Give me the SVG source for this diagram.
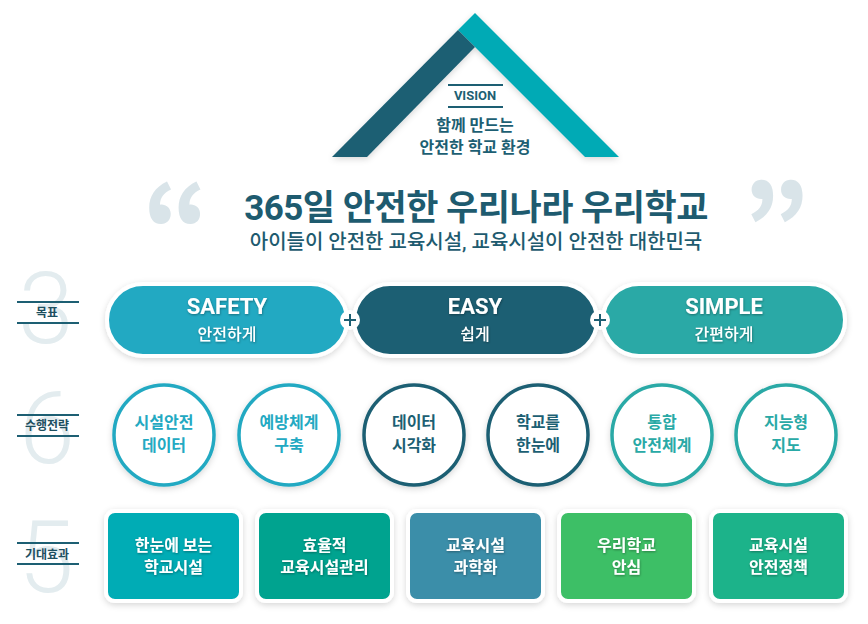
<svg xmlns="http://www.w3.org/2000/svg" width="868" height="624" viewBox="0 0 868 624">
<defs>
  <filter id="sh" x="-20%" y="-20%" width="140%" height="150%">
    <feDropShadow dx="0" dy="2" stdDeviation="3" flood-color="#000" flood-opacity="0.16"/>
  </filter>
  <filter id="tsh" x="-10%" y="-30%" width="120%" height="160%">
    <feDropShadow dx="0.5" dy="1" stdDeviation="0.8" flood-color="#000" flood-opacity="0.35"/>
  </filter>
  <style>
    text { font-family: Roboto, "Noto Sans CJK KR", sans-serif; text-anchor: middle; }
    .big { font-size: 100px; font-weight: 300; fill: #e3ecef; }
    .lbl { font-size: 12px; font-weight: 700; fill: #1d4f5f; }
    .lline { stroke: #1d5f73; stroke-width: 2; }
    .pill { stroke: #fff; stroke-width: 4; filter: url(#sh); }
    .pt1 { font-size: 22px; font-weight: 700; fill: #fff; }
    .pt2 { font-size: 16px; font-weight: 500; fill: #fff; }
    .circ { fill: #fff; stroke-width: 3.5; filter: url(#sh); }
    .ct { font-size: 16px; font-weight: 700; }
    .box { stroke: #fff; stroke-width: 4; filter: url(#sh); }
    .bt { font-size: 16px; font-weight: 700; fill: #fff; }
    .quote { font-family: "Noto Sans CJK KR", sans-serif; font-size: 105px; font-weight: 900; fill: #d9e4e9; }
  </style>
</defs>
<rect width="868" height="624" fill="#fff"/>

<!-- Roof / vision -->
<g id="vision">
  <g filter="url(#sh)">
    <polygon points="458,30 475,13 619,157 585,157 475,47" fill="#00aab5"/>
    <polygon points="332,157 458,30 475,47 367,157" fill="#1c5f73"/>
  </g>
  <line x1="448" y1="85" x2="503" y2="85" class="lline"/>
  <line x1="448" y1="107" x2="503" y2="107" class="lline"/>
  <text x="475" y="100" style="font-size:13px;font-weight:700;fill:#1d5f73">VISION</text>
  <text x="475" y="131" style="font-size:16px;font-weight:700;fill:#1d5f73">함께 만드는</text>
  <text x="475" y="153" style="font-size:16px;font-weight:700;fill:#1d5f73">안전한 학교 환경</text>
</g>

<!-- Title -->
<g id="title">
  <text class="quote" x="176" y="263">“</text>
  <text class="quote" x="776" y="263">”</text>
  <text x="476" y="220" style="font-size:35px;font-weight:700;fill:#1e5b6f;letter-spacing:-0.5px">365일 안전한 우리나라 우리학교</text>
  <text x="476" y="249" style="font-size:20px;font-weight:500;fill:#1e5b6f">아이들이 안전한 교육시설, 교육시설이 안전한 대한민국</text>
</g>

<!-- Row labels -->
<g id="label-goal">
  <text class="big" x="46" y="343">3</text>
  <line x1="17" y1="302" x2="79" y2="302" class="lline"/>
  <line x1="17" y1="323" x2="79" y2="323" class="lline"/>
  <text class="lbl" x="47" y="317">목표</text>
</g>
<g id="label-strategy">
  <text class="big" x="47" y="463">6</text>
  <line x1="17" y1="415" x2="79" y2="415" class="lline"/>
  <line x1="17" y1="436" x2="79" y2="436" class="lline"/>
  <text class="lbl" x="47" y="430">수행전략</text>
</g>
<g id="label-effect">
  <text class="big" x="46" y="592">5</text>
  <line x1="17" y1="543" x2="79" y2="543" class="lline"/>
  <line x1="17" y1="564" x2="79" y2="564" class="lline"/>
  <text class="lbl" x="47" y="559">기대효과</text>
</g>

<!-- Goals -->
<g id="goal-safety">
  <rect class="pill" x="107" y="284" width="240" height="72" rx="36" fill="#23a9c2"/>
  <text class="pt1" x="227" y="314" filter="url(#tsh)">SAFETY</text>
  <text class="pt2" x="227" y="340" filter="url(#tsh)">안전하게</text>
</g>
<g id="goal-easy">
  <rect class="pill" x="354" y="284" width="243" height="72" rx="36" fill="#1c5f73"/>
  <text class="pt1" x="475" y="314" filter="url(#tsh)">EASY</text>
  <text class="pt2" x="475" y="340" filter="url(#tsh)">쉽게</text>
</g>
<g id="goal-simple">
  <rect class="pill" x="603" y="284" width="242" height="72" rx="36" fill="#29a9a6"/>
  <text class="pt1" x="724" y="314" filter="url(#tsh)">SIMPLE</text>
  <text class="pt2" x="724" y="340" filter="url(#tsh)">간편하게</text>
</g>

<g id="connectors">
  <g>
    <circle cx="350" cy="320" r="10" fill="#fff"/>
    <path d="M344,320 H356 M350,314 V326" stroke="#1c5f73" stroke-width="2"/>
  </g>
  <g>
    <circle cx="600" cy="320" r="10" fill="#fff"/>
    <path d="M594,320 H606 M600,314 V326" stroke="#1c5f73" stroke-width="2"/>
  </g>
</g>

<!-- Strategies -->
<g id="s1">
  <circle class="circ" cx="164" cy="435" r="50" stroke="#23a9c2"/>
  <text class="ct" x="164" y="428" fill="#23a9c2">시설안전</text>
  <text class="ct" x="164" y="451" fill="#23a9c2">데이터</text>
</g>
<g id="s2">
  <circle class="circ" cx="289" cy="435" r="50" stroke="#23a9c2"/>
  <text class="ct" x="289" y="428" fill="#23a9c2">예방체계</text>
  <text class="ct" x="289" y="451" fill="#23a9c2">구축</text>
</g>
<g id="s3">
  <circle class="circ" cx="414" cy="435" r="50" stroke="#1c5f73"/>
  <text class="ct" x="414" y="428" fill="#1c5f73">데이터</text>
  <text class="ct" x="414" y="451" fill="#1c5f73">시각화</text>
</g>
<g id="s4">
  <circle class="circ" cx="538" cy="435" r="50" stroke="#1c5f73"/>
  <text class="ct" x="538" y="428" fill="#1c5f73">학교를</text>
  <text class="ct" x="538" y="451" fill="#1c5f73">한눈에</text>
</g>
<g id="s5">
  <circle class="circ" cx="662" cy="435" r="50" stroke="#29a9a6"/>
  <text class="ct" x="662" y="428" fill="#29a9a6">통합</text>
  <text class="ct" x="662" y="451" fill="#29a9a6">안전체계</text>
</g>
<g id="s6">
  <circle class="circ" cx="786" cy="435" r="50" stroke="#29a9a6"/>
  <text class="ct" x="786" y="428" fill="#29a9a6">지능형</text>
  <text class="ct" x="786" y="451" fill="#29a9a6">지도</text>
</g>

<!-- Effects -->
<g id="e1">
  <rect class="box" x="106" y="511" width="135" height="90" rx="9" fill="#00acb5"/>
  <text class="bt" x="173.5" y="551" filter="url(#tsh)">한눈에 보는</text>
  <text class="bt" x="173.5" y="573" filter="url(#tsh)">학교시설</text>
</g>
<g id="e2">
  <rect class="box" x="257" y="511" width="135" height="90" rx="9" fill="#02a38f"/>
  <text class="bt" x="324.5" y="551" filter="url(#tsh)">효율적</text>
  <text class="bt" x="324.5" y="573" filter="url(#tsh)">교육시설관리</text>
</g>
<g id="e3">
  <rect class="box" x="408" y="511" width="135" height="90" rx="9" fill="#3a8ea9"/>
  <text class="bt" x="475.5" y="551" filter="url(#tsh)">교육시설</text>
  <text class="bt" x="475.5" y="573" filter="url(#tsh)">과학화</text>
</g>
<g id="e4">
  <rect class="box" x="559" y="511" width="135" height="90" rx="9" fill="#3dbf66"/>
  <text class="bt" x="626.5" y="551" filter="url(#tsh)">우리학교</text>
  <text class="bt" x="626.5" y="573" filter="url(#tsh)">안심</text>
</g>
<g id="e5">
  <rect class="box" x="711" y="511" width="135" height="90" rx="9" fill="#1eb38a"/>
  <text class="bt" x="778.5" y="551" filter="url(#tsh)">교육시설</text>
  <text class="bt" x="778.5" y="573" filter="url(#tsh)">안전정책</text>
</g>
</svg>
